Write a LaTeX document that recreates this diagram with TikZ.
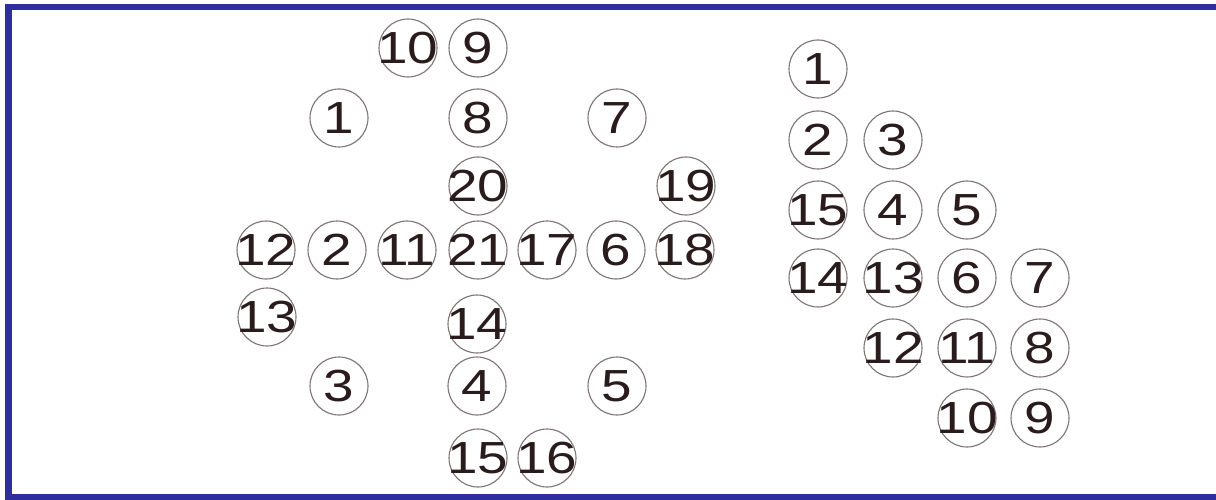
\documentclass[tikz,border=0pt]{standalone}
\usepackage{fontspec}
\newfontfamily\numfont[FakeStretch=1.22]{Liberation Sans}
\definecolor{frameblue}{HTML}{2E2E9E}
\definecolor{ringgray}{HTML}{7E7474}
\definecolor{numink}{HTML}{2A1C1C}
\newcommand\ballnum[1]{\makebox[0pt][c]{#1}}
\tikzset{
  ball/.style={circle, draw=ringgray, line width=1.1pt, minimum size=58pt,
    inner sep=0pt, text=numink, font=\numfont\fontsize{45}{45}\selectfont},
}
\begin{document}
\begin{tikzpicture}[x=1pt,y=-1pt]
\useasboundingbox (0,0) rectangle (1216,500);
\fill[white] (0,0) rectangle (1216,500);
% frame
\fill[frameblue] (5,4) rectangle (1216,10);
\fill[frameblue] (5,4) rectangle (12,500);
\fill[frameblue] (5,494) rectangle (1216,500);
% left cluster
\node[ball] (a10) at (408,48) {\ballnum{10}};
\node[ball] (a9)  at (478,48) {\ballnum{9}};
\node[ball] (a1)  at (339,118) {\ballnum{1}};
\node[ball] (a8)  at (478,118) {\ballnum{8}};
\node[ball] (a7)  at (617,118) {\ballnum{7}};
\node[ball] (a20) at (478,186) {\ballnum{20}};
\node[ball] (a19) at (686,186) {\ballnum{19}};
\node[ball] (a12) at (266,250) {\ballnum{12}};
\node[ball] (a2)  at (337,250) {\ballnum{2}};
\node[ball] (a11) at (407,250) {\ballnum{11}};
\node[ball] (a21) at (478,250) {\ballnum{21}};
\node[ball] (a17) at (547,250) {\ballnum{17}};
\node[ball] (a6)  at (616,250) {\ballnum{6}};
\node[ball] (a18) at (685,250) {\ballnum{18}};
\node[ball] (a13) at (267,317) {\ballnum{13}};
\node[ball] (a14) at (477,324) {\ballnum{14}};
\node[ball] (a3)  at (339,386) {\ballnum{3}};
\node[ball] (a4)  at (477,386) {\ballnum{4}};
\node[ball] (a5)  at (617,386) {\ballnum{5}};
\node[ball] (a15) at (478,458) {\ballnum{15}};
\node[ball] (a16) at (547,458) {\ballnum{16}};
% right cluster
\node[ball] (b1)  at (818,69) {\ballnum{1}};
\node[ball] (b2)  at (818,140) {\ballnum{2}};
\node[ball] (b3)  at (893,140) {\ballnum{3}};
\node[ball] (b15) at (818,210) {\ballnum{15}};
\node[ball] (b4)  at (893,210) {\ballnum{4}};
\node[ball] (b5)  at (967,210) {\ballnum{5}};
\node[ball] (b14) at (818,278) {\ballnum{14}};
\node[ball] (b13) at (893,278) {\ballnum{13}};
\node[ball] (b6)  at (967,278) {\ballnum{6}};
\node[ball] (b7)  at (1040,278) {\ballnum{7}};
\node[ball] (b12) at (893,348) {\ballnum{12}};
\node[ball] (b11) at (967,348) {\ballnum{11}};
\node[ball] (b8)  at (1040,348) {\ballnum{8}};
\node[ball] (b10) at (967,418) {\ballnum{10}};
\node[ball] (b9)  at (1040,418) {\ballnum{9}};
\end{tikzpicture}
\end{document}
